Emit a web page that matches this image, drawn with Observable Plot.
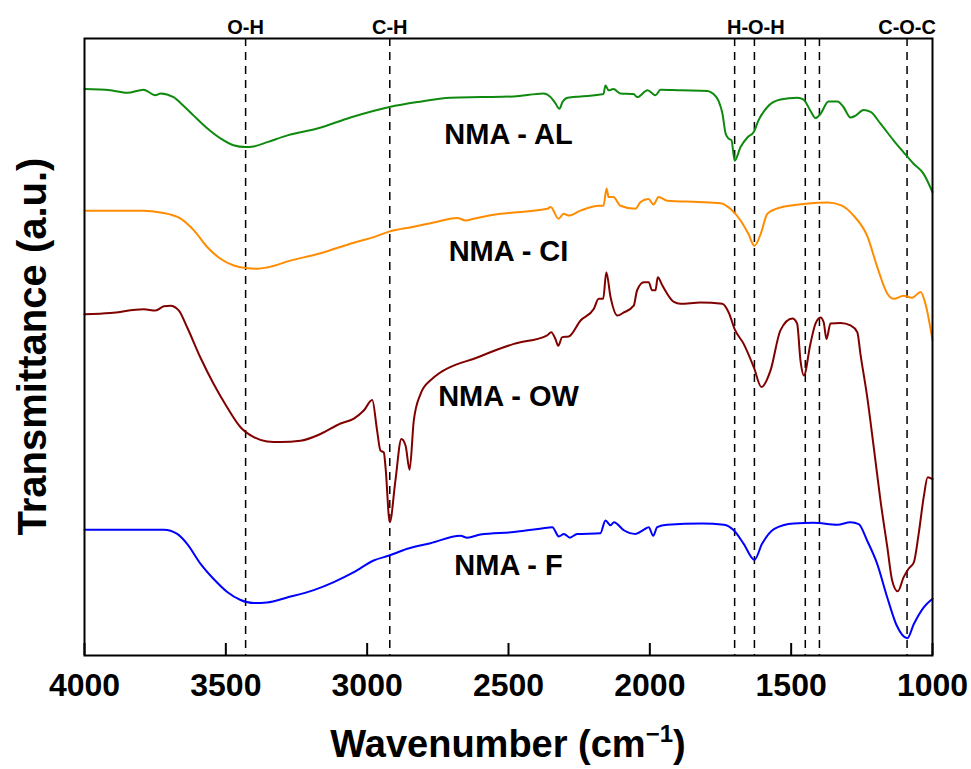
<!DOCTYPE html>
<html>
<head>
<meta charset="utf-8">
<script src="https://cdn.jsdelivr.net/npm/d3@7"></script>
<script src="https://cdn.jsdelivr.net/npm/@observablehq/plot@0.6"></script>
<style>
  html, body { margin: 0; padding: 0; background: #fff; overflow: hidden; }
  #chart svg { display: block; }
</style>
</head>
<body>
<div id="chart"></div>
<script>
// ---- Data ----
const seriesNames = ["NMA - AL", "NMA - CI", "NMA - OW", "NMA - F"];
const seriesColors = ["#0f8a0f", "#ff8c00", "#800000", "#0000ff"];

const wnAL = [4000,3908,3848,3791,3749,3731,3685,3650,3614,3565,3519,3473,3430,3402,3353,3282,3176,3059,2921,2822,2705,2599,2482,2376,2351,2334,2320,2309,2291,2245,2164,2157,2146,2129,2104,2058,2044,2008,1980,1962,1892,1796,1775,1757,1743,1732,1722,1711,1700,1679,1654,1633,1616,1584,1538,1478,1456,1432,1414,1396,1368,1336,1315,1290,1272,1244,1219,1184,1138,1103,1067,1032,1000];
const tAL  = [91.8,91.6,91.2,91.7,90.8,91.1,90.5,89.1,87.5,85.4,83.8,82.7,82.4,82.5,83.2,84.3,85.4,87.2,88.9,89.7,90.4,90.5,90.6,91.1,90.5,89.5,88.6,89.7,90.4,90.6,91.0,92.4,91.6,91.8,91.1,91.0,90.5,91.6,90.8,91.7,91.6,91.5,91.0,89.9,87.8,84.6,83.8,83.5,80.2,82.4,84.0,84.8,86.7,88.9,90.1,90.4,90.1,88.3,87.1,87.8,89.8,89.8,88.9,87.2,87.5,88.4,88.1,86.2,83.5,81.6,79.7,78.1,75.1];

const wnCI = [4000,3791,3731,3660,3613,3566,3519,3472,3430,3389,3354,3271,3165,3047,2977,2923,2835,2752,2681,2652,2623,2528,2482,2362,2351,2323,2305,2288,2245,2182,2164,2153,2146,2129,2104,2051,2033,2005,1987,1969,1938,1831,1750,1715,1679,1651,1630,1608,1584,1538,1449,1371,1325,1279,1230,1195,1159,1137,1102,1072,1042,1025,1000];
const tCI  = [72.1,72.1,71.8,70.8,68.9,66.2,64.3,63.2,62.8,62.7,62.9,64.0,65.2,66.9,67.8,68.7,69.5,70.3,70.9,70.5,70.8,71.6,71.8,72.4,72.7,70.8,71.6,71.3,72.1,72.9,72.9,75.7,74.3,74.3,72.9,72.4,73.5,74.0,73.1,74.3,73.7,73.5,73.3,72.4,70.5,68.3,66.4,68.3,71.6,72.6,73.2,73.4,73.0,71.3,67.9,62.9,58.6,57.8,58.3,58.0,58.9,57.0,51.1];

const wnOW = [4000,3908,3790,3749,3719,3696,3666,3637,3590,3543,3495,3448,3401,3354,3307,3236,3165,3094,3047,3012,2982,2965,2953,2941,2935,2920,2900,2879,2864,2850,2835,2811,2776,2599,2481,2363,2349,2334,2324,2310,2287,2245,2198,2181,2165,2154,2139,2115,2092,2057,2045,2021,2004,1992,1980,1972,1956,1915,1892,1821,1744,1721,1700,1668,1632,1605,1573,1538,1496,1479,1467,1455,1432,1414,1396,1385,1375,1361,1325,1290,1266,1255,1231,1208,1184,1160,1143,1123,1102,1084,1066,1049,1031,1017,1000];
const tOW  = [55.3,55.5,56.1,55.9,56.6,56.7,55.9,53.2,48.3,44.0,40.2,37.0,35.4,34.7,34.6,34.8,35.9,37.6,38.4,39.7,41.4,36.5,33.2,32.9,30.5,21.6,28.4,35.1,34.0,30.1,38.1,42.4,44.6,48.5,50.5,51.9,52.4,51.3,50.2,51.6,51.7,54.3,56.2,57.8,57.8,62.1,58.1,55.1,55.6,56.7,59.2,60.5,60.5,59.2,59.2,61.3,60.0,57.3,57.0,57.2,57.0,55.6,52.9,50.5,46.7,43.5,46.2,52.7,54.6,53.8,47.8,45.4,50.5,53.8,54.8,54.0,51.3,53.8,53.9,53.5,52.4,48.9,41.9,33.8,25.1,17.6,12.2,10.4,12.7,14.1,15.1,19.7,25.7,28.9,28.6];

const wnF = [4000,3719,3672,3637,3590,3543,3495,3448,3401,3354,3283,3189,3118,3047,2977,2922,2858,2776,2670,2646,2599,2481,2363,2345,2322,2304,2283,2257,2175,2157,2139,2127,2092,2051,2021,2004,1988,1974,1939,1815,1738,1703,1668,1630,1603,1561,1491,1420,1337,1290,1261,1231,1196,1160,1127,1089,1066,1031,1000];
const tF  = [20.4,20.4,19.7,18.1,14.9,12.4,10.3,9.0,8.5,8.6,9.4,10.6,11.9,13.5,15.4,16.2,17.3,18.2,19.4,19.1,19.6,20.0,20.7,20.8,19.3,19.7,19.1,19.7,19.8,21.9,21.1,21.6,20.3,19.7,20.4,20.8,19.4,20.8,21.2,21.4,21.2,20.3,18.1,15.5,18.1,20.5,21.4,21.5,21.2,21.6,21.3,18.6,14.9,9.4,4.9,2.8,5.1,7.8,9.2];

// curve label positions (wavenumber, transmittance)
const labelWn = [2500, 2500, 2500, 2500];
const labelT  = [84.4, 65.5, 41.9, 14.6];

// band markers
const bandWn = [3430, 2920, 1700, 1630, 1450, 1400, 1090];
const bandLabelText = ["O-H", "C-H", "H-O-H", "C-O-C"];
const bandLabelWn = [3430, 2920, 1625, 1090];

const xTicks = [4000, 3500, 3000, 2500, 2000, 1500, 1000];

// ---- Build tables ----
const wnAll = [wnAL, wnCI, wnOW, wnF];
const tAll = [tAL, tCI, tOW, tF];
const rows = [];
seriesNames.forEach((name, i) => {
  wnAll[i].forEach((w, j) => rows.push({series: name, wn: w, t: tAll[i][j]}));
});
const labels = seriesNames.map((name, i) => ({text: name, wn: labelWn[i], t: labelT[i]}));
const bandLabels = bandLabelText.map((s, i) => ({text: s, wn: bandLabelWn[i]}));

const W = 971, H = 769;
const mL = 84, mR = 39, mT = 38, mB = 114;
const font = "'Liberation Sans', Arial, Helvetica, sans-serif";

const svg = Plot.plot({
  width: W,
  height: H,
  marginLeft: mL,
  marginRight: mR,
  marginTop: mT,
  marginBottom: mB,
  style: {fontFamily: font, background: "#fff", color: "#000"},
  x: {domain: [4000, 1000]},
  y: {domain: [0, 100], axis: null},
  color: {domain: seriesNames, range: seriesColors},
  marks: [
    Plot.ruleX(bandWn, {stroke: "#000", strokeWidth: 1.5, strokeDasharray: "8,6"}),
    Plot.line(rows, {x: "wn", y: "t", z: "series", stroke: "series", strokeWidth: 2, curve: "monotone-x"}),
    Plot.text(labels, {x: "wn", y: "t", text: "text", fontSize: 29, fontWeight: "bold", fill: "#000", textAnchor: "middle"}),
    Plot.text(bandLabels, {x: "wn", frameAnchor: "top", text: "text", lineAnchor: "bottom", dy: -5, fontSize: 20, fontWeight: "bold", fill: "#000"}),
    Plot.frame({stroke: "#000", strokeWidth: 2}),
    Plot.axisX({ticks: xTicks, tickSize: -12, tickPadding: 30, strokeWidth: 2, fontSize: 32, fontWeight: "bold", label: null, tickFormat: d => String(d)})
  ]
});

// axis titles
const s = d3.select(svg);
const xt = s.append("text")
  .attr("x", mL + (W - mL - mR) / 2)
  .attr("y", 757)
  .attr("text-anchor", "middle")
  .attr("font-family", font)
  .attr("font-weight", "bold")
  .attr("font-size", 38)
  .attr("fill", "#000");
xt.append("tspan").text("Wavenumber (cm");
xt.append("tspan").attr("dy", -15).attr("font-size", 24).text("\u22121");
xt.append("tspan").attr("dy", 15).text(")");

s.append("text")
  .attr("transform", `translate(46,${mT + (H - mT - mB) / 2}) rotate(-90)`)
  .attr("text-anchor", "middle")
  .attr("font-family", font)
  .attr("font-weight", "bold")
  .attr("font-size", 40)
  .attr("fill", "#000")
  .text("Transmittance (a.u.)");

document.getElementById("chart").appendChild(svg);
</script>
</body>
</html>
